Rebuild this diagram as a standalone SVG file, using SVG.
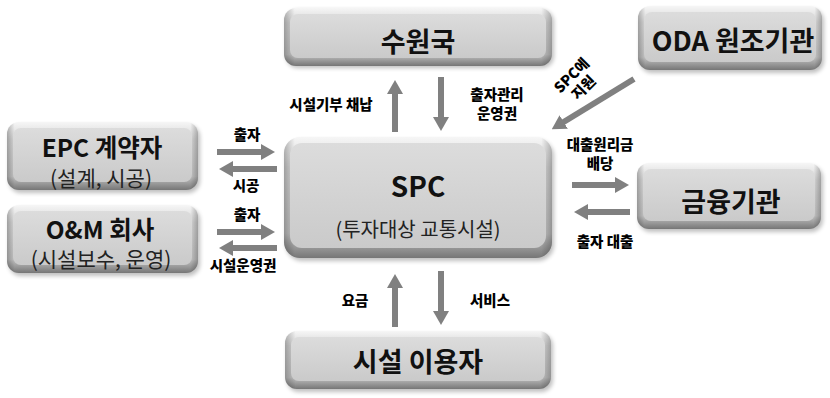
<svg xmlns="http://www.w3.org/2000/svg" width="830" height="398" viewBox="0 0 830 398">
  <style>
    .title { font-family: "Noto Sans CJK KR", "Liberation Sans", sans-serif; font-weight: bold; fill: #111; text-anchor: middle; }
    .sub { font-family: "Noto Sans CJK KR", "Liberation Sans", sans-serif; font-weight: normal; fill: #222; text-anchor: middle; }
    .lbl { font-family: "Noto Sans CJK KR", "Liberation Sans", sans-serif; font-weight: 900; font-size: 14.5px; fill: #000; text-anchor: middle; }
    .flow { stroke: #808080; stroke-width: 6; fill: none; marker-end: url(#head); }
  </style>
  <defs>
    <linearGradient id="bevel" x1="0" y1="0" x2="0" y2="1">
      <stop offset="0" stop-color="#f6f6f6"/>
      <stop offset="0.25" stop-color="#d6d6d6"/>
      <stop offset="0.8" stop-color="#c2c2c2"/>
      <stop offset="1" stop-color="#767676"/>
    </linearGradient>
    <linearGradient id="face" x1="0" y1="0" x2="0" y2="1">
      <stop offset="0" stop-color="#dcdcdc"/>
      <stop offset="1" stop-color="#cacaca"/>
    </linearGradient>
    <linearGradient id="side" x1="0" y1="0" x2="1" y2="0">
      <stop offset="0" stop-color="#000" stop-opacity="0.25"/>
      <stop offset="0.04" stop-color="#000" stop-opacity="0"/>
      <stop offset="0.96" stop-color="#000" stop-opacity="0"/>
      <stop offset="1" stop-color="#000" stop-opacity="0.25"/>
    </linearGradient>
    <filter id="shadow" x="-10%" y="-20%" width="120%" height="150%">
      <feGaussianBlur stdDeviation="2"/>
    </filter>
    <marker id="head" viewBox="0 0 14 16" refX="2" refY="8" markerWidth="14" markerHeight="16" markerUnits="userSpaceOnUse" orient="auto">
      <path d="M0,0 L14,8 L0,16 Z" fill="#808080"/>
    </marker>
  </defs>

  <!-- nodes -->
  <g id="node-recipient">
    <rect x="286" y="10" width="268" height="58" rx="12" fill="#000" opacity="0.25" filter="url(#shadow)"/>
    <rect x="284" y="8" width="268" height="58" rx="12" fill="url(#bevel)"/>
    <rect x="284" y="8" width="268" height="58" rx="12" fill="url(#side)"/>
    <rect x="290" y="14" width="256" height="44" rx="8" fill="url(#face)"/>
    <text class="title" x="418" y="52" font-size="27">수원국</text>
  </g>

  <g id="node-oda">
    <rect x="640" y="9" width="184" height="64" rx="12" fill="#000" opacity="0.25" filter="url(#shadow)"/>
    <rect x="638" y="6" width="184" height="64" rx="12" fill="url(#bevel)"/>
    <rect x="638" y="6" width="184" height="64" rx="12" fill="url(#side)"/>
    <rect x="644" y="12" width="172" height="50" rx="8" fill="url(#face)"/>
    <text class="title" x="733" y="51" font-size="27">ODA 원조기관</text>
  </g>

  <g id="node-epc">
    <rect x="9" y="125" width="191" height="68" rx="12" fill="#000" opacity="0.25" filter="url(#shadow)"/>
    <rect x="7" y="122" width="191" height="68" rx="12" fill="url(#bevel)"/>
    <rect x="7" y="122" width="191" height="68" rx="12" fill="url(#side)"/>
    <rect x="13" y="128" width="179" height="54" rx="8" fill="url(#face)"/>
    <text class="title" x="102" y="157" font-size="24.5">EPC 계약자</text>
    <text class="sub" x="101" y="185.5" font-size="21">(설계, 시공)</text>
  </g>

  <g id="node-om">
    <rect x="9" y="208" width="191" height="68" rx="12" fill="#000" opacity="0.25" filter="url(#shadow)"/>
    <rect x="7" y="205" width="191" height="68" rx="12" fill="url(#bevel)"/>
    <rect x="7" y="205" width="191" height="68" rx="12" fill="url(#side)"/>
    <rect x="13" y="211" width="179" height="54" rx="8" fill="url(#face)"/>
    <text class="title" x="100" y="239" font-size="24.5">O&amp;M 회사</text>
    <text class="sub" x="101" y="267" font-size="21">(시설보수, 운영)</text>
  </g>

  <g id="node-spc">
    <rect x="286" y="140" width="268" height="121" rx="16" fill="#000" opacity="0.25" filter="url(#shadow)"/>
    <rect x="284" y="137" width="268" height="121" rx="16" fill="url(#bevel)"/>
    <rect x="284" y="137" width="268" height="121" rx="16" fill="url(#side)"/>
    <rect x="290" y="143" width="256" height="105" rx="12" fill="url(#face)"/>
    <text class="title" x="418" y="197" font-size="28">SPC</text>
    <text class="sub" x="418" y="237" font-size="20">(투자대상 교통시설)</text>
  </g>

  <g id="node-finance">
    <rect x="639" y="166" width="184" height="66" rx="12" fill="#000" opacity="0.25" filter="url(#shadow)"/>
    <rect x="637" y="163" width="184" height="66" rx="12" fill="url(#bevel)"/>
    <rect x="637" y="163" width="184" height="66" rx="12" fill="url(#side)"/>
    <rect x="643" y="169" width="172" height="52" rx="8" fill="url(#face)"/>
    <text class="title" x="731" y="212" font-size="27">금융기관</text>
  </g>

  <g id="node-users">
    <rect x="287" y="334" width="266" height="58" rx="12" fill="#000" opacity="0.25" filter="url(#shadow)"/>
    <rect x="285" y="331" width="266" height="58" rx="12" fill="url(#bevel)"/>
    <rect x="285" y="331" width="266" height="58" rx="12" fill="url(#side)"/>
    <rect x="291" y="337" width="254" height="44" rx="8" fill="url(#face)"/>
    <text class="title" x="418" y="372" font-size="27">시설 이용자</text>
  </g>

  <!-- connectors -->
  <g id="connectors">
    <line class="flow" x1="217" y1="152" x2="263" y2="152"/>
    <line class="flow" x1="277" y1="169" x2="231" y2="169"/>
    <line class="flow" x1="217" y1="232" x2="263" y2="232"/>
    <line class="flow" x1="277" y1="248" x2="231" y2="248"/>

    <line class="flow" x1="395" y1="132" x2="395" y2="92"/>
    <line class="flow" x1="441" y1="77" x2="441" y2="119"/>

    <line class="flow" x1="634" y1="79" x2="562" y2="123"/>

    <line class="flow" x1="572" y1="185" x2="617" y2="185"/>
    <line class="flow" x1="630" y1="212" x2="586" y2="212"/>

    <line class="flow" x1="395" y1="327" x2="395" y2="286"/>
    <line class="flow" x1="441" y1="271" x2="441" y2="313"/>
  </g>

  <!-- connector labels -->
  <g id="labels">
    <text class="lbl" x="247" y="140">출자</text>
    <text class="lbl" x="246" y="191">시공</text>
    <text class="lbl" x="247" y="220">출자</text>
    <text class="lbl" x="243" y="271">시설운영권</text>
    <text class="lbl" x="331" y="110">시설기부 채납</text>
    <text class="lbl" x="497" y="100">출자관리</text>
    <text class="lbl" x="497" y="119">운영권</text>
    <g transform="translate(578 82) rotate(-45)">
      <text class="lbl" x="0" y="-4">SPC에</text>
      <text class="lbl" x="0" y="13">지원</text>
    </g>
    <text class="lbl" x="600" y="150">대출원리금</text>
    <text class="lbl" x="600" y="169">배당</text>
    <text class="lbl" x="605" y="247">출자 대출</text>
    <text class="lbl" x="355" y="306">요금</text>
    <text class="lbl" x="490" y="306">서비스</text>
  </g>
</svg>
